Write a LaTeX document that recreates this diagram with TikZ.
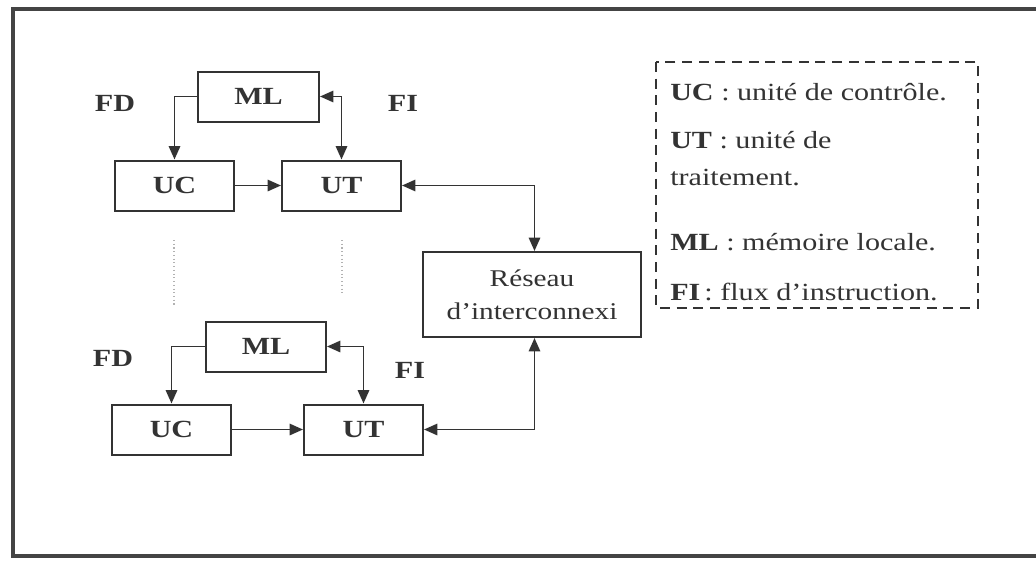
\documentclass[tikz,border=0pt]{standalone}
\usepackage{fontspec}
\setmainfont{Liberation Serif}[FakeStretch=1.22]
\usetikzlibrary{arrows.meta}
\definecolor{ink}{HTML}{333333}
\definecolor{frame}{HTML}{444444}
\tikzset{
  box/.style={draw=ink, line width=1.5pt, fill=white, inner sep=0pt, minimum height=50*0.75pt, text=ink, font=\fontsize{18.5}{21}\selectfont\bfseries},
  netbox/.style={draw=ink, line width=1.5pt, fill=white, inner sep=0pt, minimum width=218*0.75pt, minimum height=85*0.75pt, align=center, text=ink, font=\fontsize{18}{25}\selectfont},
  lbl/.style={text=ink, font=\fontsize{18.5}{21}\selectfont\bfseries},
  leg/.style={anchor=west, inner sep=0pt, text=ink, font=\fontsize{18.5}{21}\selectfont},
  arr/.style={draw=ink, line width=1.4pt, -{Triangle[length=10pt,width=8.5pt]}},
  darr/.style={draw=ink, line width=1.4pt, {Triangle[length=10pt,width=8.5pt]}-{Triangle[length=10pt,width=8.5pt]}},
  dots/.style={draw=gray!60, line width=0.8pt, dotted},
}
\begin{document}
\begin{tikzpicture}[x=0.75pt,y=-0.75pt]
\useasboundingbox (0,0) rectangle (1036,561);
% outer frame
\draw[frame, line width=3pt] (13,9) rectangle (1045,556);
% top group
\node[box, minimum width=121*0.75pt] (ML1) at (258.5,96.5) {ML};
\node[box, minimum width=119*0.75pt] (UC1) at (174.5,185.5) {UC};
\node[box, minimum width=119*0.75pt] (UT1) at (341.5,185.5) {UT};
% bottom group
\node[box, minimum width=120*0.75pt] (ML2) at (266,346.5) {ML};
\node[box, minimum width=119*0.75pt] (UC2) at (171.5,429.5) {UC};
\node[box, minimum width=119*0.75pt] (UT2) at (363.5,429.5) {UT};
% network
\node[netbox] (R) at (532,294.5) {Réseau\\d’interconnexi};
% labels
\node[lbl] (FD1) at (115,103) {FD};
\node[lbl] (FI1) at (403,103) {FI};
\node[lbl] (FD2) at (113,358) {FD};
\node[lbl] (FI2) at (410,370) {FI};
% connectors top
\draw[arr] (ML1.west) -| (UC1.north);
\draw[darr] (ML1.east) -| (UT1.north);
\draw[arr] (UC1.east) -- (UT1.west);
\draw[darr] (UT1.east) -| ([xshift=2.5*0.75pt]R.north);
% connectors bottom
\draw[arr] (ML2.west) -| (UC2.north);
\draw[darr] (ML2.east) -| (UT2.north);
\draw[arr] (UC2.east) -- (UT2.west);
\draw[darr] (UT2.east) -| ([xshift=2.5*0.75pt]R.south);
% dotted continuation
\coordinate (d1a) at (174,240); \coordinate (d1b) at (174,305);
\coordinate (d2a) at (342,240); \coordinate (d2b) at (342,295);
\draw[dots] (d1a) -- (d1b);
\draw[dots] (d2a) -- (d2b);
% legend
\draw[ink, line width=1.4pt, dash pattern=on 7.5pt off 5pt] (656,62) rectangle (978,308);
\node[leg] (L1) at (670,92) {\textbf{UC} : unité de contrôle.};
\node[leg] (L2) at (670,140) {\textbf{UT} : unité de};
\node[leg] (L3) at (670,178) {traitement.};
\node[leg] (L4) at (670,242) {\textbf{ML} : mémoire locale.};
\node[leg] (L5) at (670,292) {\textbf{FI}\,: flux d’instruction.};
\end{tikzpicture}
\end{document}
